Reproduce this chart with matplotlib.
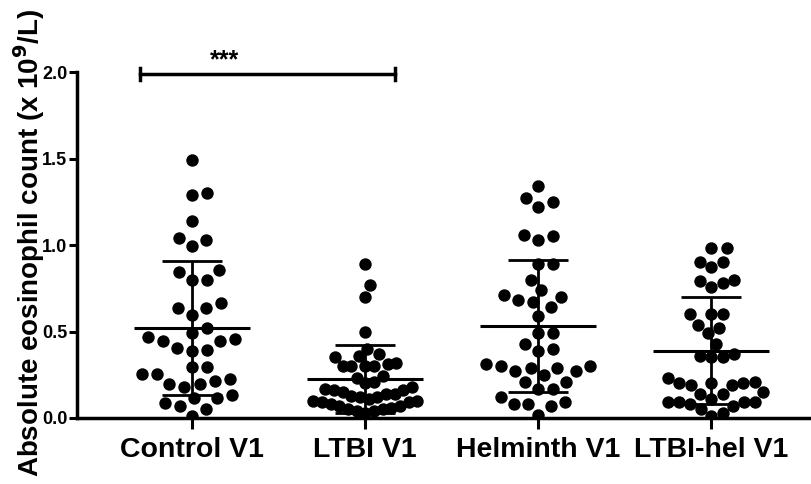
import numpy as np
import matplotlib
matplotlib.use("Agg")
import matplotlib.pyplot as plt

plt.rcParams['font.family'] = ['Liberation Sans', 'DejaVu Sans']
plt.rcParams['font.weight'] = 'bold'

# values (x 10^9/L)
groups = ["Control V1", "LTBI V1", "Helminth V1", "LTBI-hel V1"]
control = [1.49, 1.30, 1.29, 1.14, 1.04, 1.03, 0.995, 0.855, 0.846, 0.80, 0.80,
           0.663, 0.638, 0.634, 0.595, 0.518, 0.493, 0.466, 0.455, 0.445, 0.445,
           0.403, 0.393, 0.387, 0.293, 0.293, 0.254, 0.253, 0.224, 0.216, 0.195,
           0.195, 0.181, 0.133, 0.114, 0.114, 0.085, 0.071, 0.052, 0.013]
ltbi = [0.89, 0.77, 0.70, 0.50, 0.40, 0.37, 0.36, 0.35, 0.32, 0.31, 0.30, 0.30,
        0.30, 0.30, 0.24, 0.23, 0.21, 0.20, 0.18, 0.17, 0.16, 0.16, 0.15, 0.14,
        0.14, 0.13, 0.12, 0.12, 0.11, 0.10, 0.10, 0.09, 0.09, 0.08, 0.07, 0.07,
        0.06, 0.05, 0.05, 0.04, 0.04, 0.03]
helminth = [1.34, 1.27, 1.25, 1.22, 1.06, 1.05, 1.03, 0.89, 0.89, 0.80, 0.74,
            0.71, 0.70, 0.68, 0.67, 0.64, 0.59, 0.49, 0.49, 0.43, 0.40, 0.39,
            0.31, 0.30, 0.30, 0.29, 0.29, 0.27, 0.27, 0.25, 0.21, 0.21, 0.17,
            0.17, 0.12, 0.09, 0.08, 0.08, 0.07, 0.02]
ltbi_hel = [0.98, 0.98, 0.90, 0.90, 0.87, 0.80, 0.79, 0.78, 0.76, 0.60, 0.60,
            0.60, 0.54, 0.52, 0.49, 0.43, 0.37, 0.36, 0.35, 0.35, 0.23, 0.21,
            0.20, 0.20, 0.20, 0.19, 0.19, 0.15, 0.14, 0.14, 0.11, 0.09, 0.09,
            0.09, 0.09, 0.08, 0.07, 0.05, 0.03, 0.01]
data = [control, ltbi, helminth, ltbi_hel]
sig_label = "***"

PX = 173.0  # pixels per data unit (both axes)


def swarm(vals, dist=15.0, step=1.0, limit=52.0):
    # simple beeswarm, squeezed sideways when it gets too wide
    vals = np.asarray(vals)
    xs = np.zeros(len(vals))
    placed = []
    for i in np.argsort(vals):
        y = vals[i] * PX
        k = 0
        while True:
            c = ((k + 1) // 2) * step * (1 if k % 2 else -1)
            if all((c - px) ** 2 + (y - py) ** 2 >= dist ** 2 for px, py in placed):
                break
            k += 1
        xs[i] = c
        placed.append((c, y))
    w = np.abs(xs).max()
    if w > limit:
        xs = xs * limit / w
    return xs / PX


fig = plt.figure(figsize=(8.12, 4.84), dpi=100)
ax = fig.add_axes([77 / 812, 1 - 418 / 484, 734 / 812, 346 / 484])

for i, vals in enumerate(data):
    off = swarm(vals)
    ax.scatter(i + off, vals, s=80, color='black', zorder=3, linewidths=0)
    m = np.mean(vals)
    sd = np.std(vals, ddof=1)
    ax.hlines(m, i - 0.335, i + 0.335, color='black', lw=2.2, zorder=4)
    ax.errorbar(i, m, yerr=sd, fmt='none', ecolor='black', elinewidth=2.0,
                capsize=21.5, capthick=2.0, zorder=4)

# significance bar
ax.plot([-0.30, 1.17], [1.99, 1.99], color='black', lw=2.5, clip_on=False)
ax.plot([-0.30, -0.30], [1.955, 2.025], color='black', lw=2.5, clip_on=False)
ax.plot([1.17, 1.17], [1.955, 2.025], color='black', lw=2.5, clip_on=False)
ax.text(0.19, 2.025, sig_label, ha='center', va='baseline', fontsize=18,
        fontweight='bold', clip_on=False)

ax.set_xlim(-0.665, 3.575)
ax.set_ylim(0, 2.0)
ax.set_yticks([0.0, 0.5, 1.0, 1.5, 2.0])
ax.set_yticklabels(["0.0", "0.5", "1.0", "1.5", "2.0"], fontsize=13,
                   fontweight='bold')
ax.set_xticks(range(len(groups)))
ax.set_xticklabels(groups, fontsize=20.5, fontweight='bold')
ax.tick_params(axis='y', length=6, width=2.2, pad=1)
ax.tick_params(axis='x', length=8, width=2.2, pad=6)
for side in ['top', 'right']:
    ax.spines[side].set_visible(False)
for side in ['left', 'bottom']:
    ax.spines[side].set_linewidth(2.5)

fig.text(29 / 812, 1 - 243 / 484, "Absolute eosinophil count (x 10$^\\mathbf{9}$/L)",
         rotation=90, ha='center', va='center', fontsize=20, fontweight='bold')

fig.savefig("out.png", dpi=100)
